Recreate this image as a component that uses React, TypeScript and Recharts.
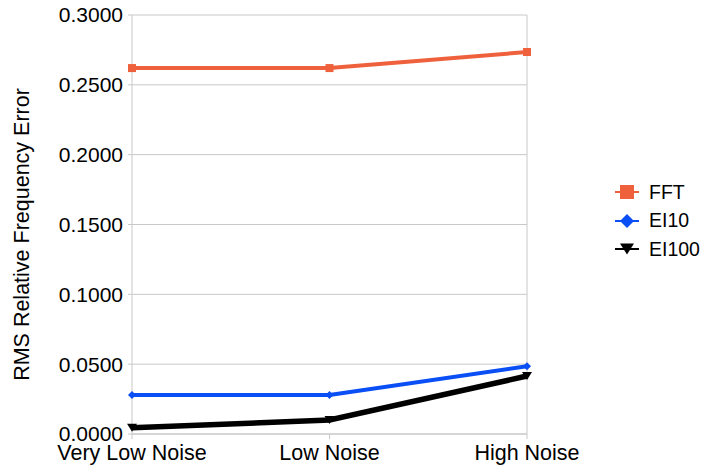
import React from 'react';
import { LineChart, Line, XAxis, YAxis, CartesianGrid, ReferenceLine } from 'recharts';

const noiseLevels = ['Very Low Noise', 'Low Noise', 'High Noise'];
const fftError = [0.262, 0.262, 0.2735];
const ei10Error = [0.028, 0.028, 0.0485];
const ei100Error = [0.0045, 0.0100, 0.0415];
const yTicks = [0, 0.05, 0.1, 0.15, 0.2, 0.25, 0.3];

const FONT = '"Liberation Sans", Arial, sans-serif';
const ORANGE = '#ef613c';
const BLUE = '#0a4ef5';
const BLACK = '#000000';

const data = noiseLevels.map((name, i) => ({
  name,
  FFT: fftError[i],
  EI10: ei10Error[i],
  EI100: ei100Error[i],
}));

type Shape = 'square' | 'diamond' | 'triangle';

const marker = (shape: Shape, x: number, y: number, color: string, s: number) => {
  if (shape === 'square') {
    return <rect x={x - s} y={y - s} width={s * 2} height={s * 2} fill={color} />;
  }
  if (shape === 'diamond') {
    return <polygon points={`${x},${y - s} ${x + s},${y} ${x},${y + s} ${x - s},${y}`} fill={color} />;
  }
  return <polygon points={`${x - s},${y - s * 0.8} ${x + s},${y - s * 0.8} ${x},${y + s * 0.8}`} fill={color} />;
};

const makeDot = (shape: Shape, color: string, s: number) => (props: any) => {
  const { cx, cy, index } = props;
  if (cx == null || cy == null) return <g key={index} />;
  return <g key={index}>{marker(shape, cx, cy, color, s)}</g>;
};

const series: { key: string; color: string; shape: Shape; width: number }[] = [
  { key: 'FFT', color: ORANGE, shape: 'square', width: 4 },
  { key: 'EI10', color: BLUE, shape: 'diamond', width: 4 },
  { key: 'EI100', color: BLACK, shape: 'triangle', width: 5.5 },
];

// legend sits to the right of the plot, outside the chart's layout
const LegendBox = () => (
  <div style={{ position: 'absolute', left: 613, top: 178, fontFamily: FONT, fontSize: 19.5, color: '#000' }}>
    {series.map((s) => (
      <div key={s.key} style={{ display: 'flex', alignItems: 'center', height: 28.5 }}>
        <svg width={28} height={20}>
          <line x1={2} x2={26} y1={10} y2={10} stroke={s.color} strokeWidth={2} />
          {marker(s.shape, 14, 10, s.color, 7)}
        </svg>
        <span style={{ marginLeft: 8 }}>{s.key}</span>
      </div>
    ))}
  </div>
);

const YTitle = (props: any) => {
  const { viewBox } = props;
  const cy = viewBox.y + viewBox.height / 2 + 10;
  return (
    <text
      x={22}
      y={cy}
      transform={`rotate(-90, 22, ${cy})`}
      textAnchor="middle"
      dominantBaseline="central"
      fontFamily={FONT}
      fontSize={21.5}
      fill="#000"
    >
      RMS Relative Frequency Error
    </text>
  );
};

export default function App() {
  return (
    <div style={{ position: 'absolute', left: 0, top: 0, width: 707, height: 467, background: '#fff' }}>
      <LineChart width={707} height={467} data={data} margin={{ top: 15, right: 180, bottom: 0, left: 0 }}>
        <CartesianGrid horizontal vertical={false} stroke="#c8c8c8" strokeWidth={1} />
        <XAxis
          dataKey="name"
          height={33}
          stroke="#c8c8c8"
          tickSize={5}
          tickLine={{ stroke: '#c8c8c8' }}
          tick={{ fill: '#000', fontSize: 21.5, fontFamily: FONT }}
          tickMargin={6}
          interval={0}
        />
        <YAxis
          width={132}
          domain={[0, 0.3]}
          ticks={yTicks}
          interval={0}
          stroke="#c8c8c8"
          tickSize={4}
          tickMargin={5}
          tick={{ fill: '#000', fontSize: 21, fontFamily: FONT }}
          tickFormatter={(v: number) => v.toFixed(4)}
          label={<YTitle />}
        />
        <ReferenceLine x="High Noise" stroke="#c8c8c8" strokeWidth={1} />
        {series.map((s) => (
          <Line
            key={s.key}
            dataKey={s.key}
            type="linear"
            stroke={s.color}
            strokeWidth={s.width}
            dot={makeDot(s.shape, s.color, s.shape === 'triangle' ? 5 : 4)}
            activeDot={false}
            isAnimationActive={false}
          />
        ))}
      </LineChart>
      <LegendBox />
    </div>
  );
}
